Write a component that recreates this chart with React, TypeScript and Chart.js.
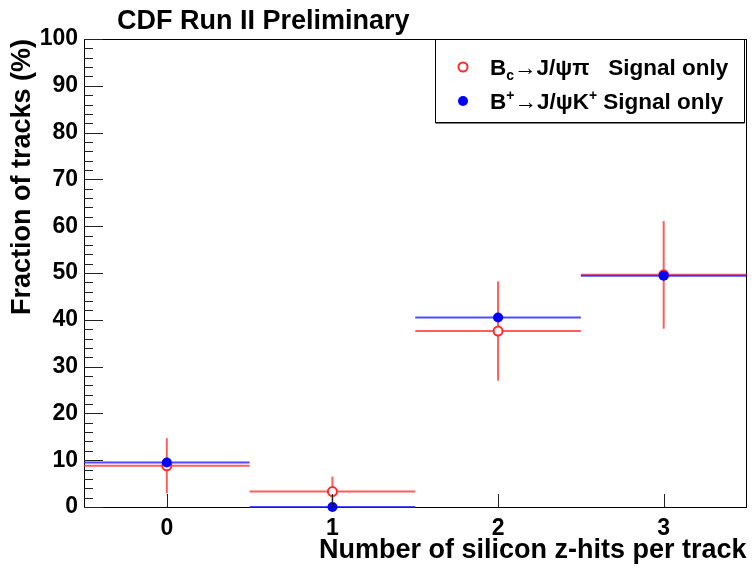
import React, { useEffect, useRef } from 'react';
import { Chart, registerables } from 'chart.js';

Chart.register(...registerables);

// ---------------- data ----------------
const hitCategories = [0, 1, 2, 3];
const binHalfWidth = [0.5, 0.5, 0.5, 0.5];

const bcFraction = [8.8, 3.3, 37.6, 49.6];
const bcError = [5.9, 3.2, 10.6, 11.5];

const bpFraction = [9.5, 0.0, 40.5, 49.4];
const bpError = [0, 0, 0, 0];

const xTickValues = [0, 1, 2, 3];
const yMin = 0;
const yMax = 100;
const yMajorStep = 10;
const yMinorStep = 2;

const titleText = 'CDF Run II Preliminary';
const xTitle = 'Number of silicon z-hits per track';
const yTitle = 'Fraction of tracks (%)';

type Seg = { t: string; sub?: boolean; sup?: boolean };
const bcLegend: Seg[] = [
  { t: 'B' }, { t: 'c', sub: true }, { t: '\u2192J/\u03C8\u03C0   Signal only' },
];
const bpLegend: Seg[] = [
  { t: 'B' }, { t: '+', sup: true }, { t: '\u2192J/\u03C8K' }, { t: '+', sup: true }, { t: ' Signal only' },
];

const FONT = '"Liberation Sans", Arial, Helvetica, sans-serif';
const RED = '#ff2a2a';
const RED_BAR = 'rgba(255,40,40,0.75)';
const BLUE = '#0000ff';
const BLUE_BAR = 'rgba(30,30,255,0.8)';

function drawRich(ctx: CanvasRenderingContext2D, segs: Seg[], x: number, y: number, size: number) {
  let cx = x;
  ctx.textBaseline = 'alphabetic';
  ctx.textAlign = 'left';
  ctx.fillStyle = '#000';
  for (const s of segs) {
    if (s.sub || s.sup) {
      ctx.font = `bold ${Math.round(size * 0.6)}px ${FONT}`;
      const dy = s.sub ? size * 0.2 : -size * 0.38;
      ctx.fillText(s.t, cx, y + dy);
      cx += ctx.measureText(s.t).width;
    } else {
      ctx.font = `bold ${size}px ${FONT}`;
      ctx.fillText(s.t, cx, y);
      cx += ctx.measureText(s.t).width;
    }
  }
}

const errorBarPlugin = {
  id: 'errorBars',
  beforeDatasetDraw(chart: any, args: any) {
    const ds: any = chart.data.datasets[args.index];
    if (!ds.yErr) return;
    const xs = chart.scales.x;
    const ys = chart.scales.y;
    const ctx = chart.ctx;
    ctx.save();
    ctx.strokeStyle = ds.barColor;
    ctx.lineWidth = 2;
    ds.data.forEach((p: any, i: number) => {
      const px = xs.getPixelForValue(p.x);
      const py = ys.getPixelForValue(p.y);
      const xl = xs.getPixelForValue(p.x - ds.xErr[i]);
      const xr = xs.getPixelForValue(p.x + ds.xErr[i]);
      ctx.beginPath();
      ctx.moveTo(xl, py);
      ctx.lineTo(xr, py);
      ctx.stroke();
      if (ds.yErr[i] > 0) {
        const yt = ys.getPixelForValue(p.y + ds.yErr[i]);
        const yb = ys.getPixelForValue(Math.max(yMin, p.y - ds.yErr[i]));
        ctx.beginPath();
        ctx.moveTo(px, yt);
        ctx.lineTo(px, yb);
        ctx.stroke();
      }
    });
    ctx.restore();
  },
};

const framePlugin = {
  id: 'rootFrame',
  beforeDatasetsDraw(chart: any) {
    const { ctx, chartArea: a } = chart;
    ctx.save();
    ctx.strokeStyle = '#000';
    ctx.lineWidth = 1;
    ctx.strokeRect(Math.round(a.left) + 0.5, Math.round(a.top) + 0.5, Math.round(a.right - a.left) - 1, Math.round(a.bottom - a.top));
    ctx.restore();
  },
  afterDatasetsDraw(chart: any) {
    const { ctx, chartArea: a } = chart;
    const xs = chart.scales.x;
    const ys = chart.scales.y;
    ctx.save();
    ctx.strokeStyle = '#222';
    ctx.lineWidth = 1;
    // y ticks (inside)
    for (let v = yMin; v <= yMax + 1e-9; v += yMinorStep) {
      const py = Math.round(ys.getPixelForValue(v)) + 0.5;
      const major = Math.abs(v / yMajorStep - Math.round(v / yMajorStep)) < 1e-6;
      const len = major ? 19 : 9;
      ctx.beginPath();
      ctx.moveTo(a.left, py);
      ctx.lineTo(a.left + len, py);
      ctx.stroke();
    }
    // x ticks (inside)
    xTickValues.forEach((v) => {
      const px = Math.round(xs.getPixelForValue(v)) + 0.5;
      ctx.beginPath();
      ctx.moveTo(px, a.bottom);
      ctx.lineTo(px, a.bottom - 13);
      ctx.stroke();
    });
    ctx.restore();

    // main title
    ctx.save();
    ctx.fillStyle = '#000';
    ctx.font = `bold 27px ${FONT}`;
    ctx.textAlign = 'left';
    ctx.textBaseline = 'alphabetic';
    ctx.fillText(titleText, 117, 29);
    ctx.restore();

    // legend
    ctx.save();
    const lx = 435.5, ly = a.top + 0.5, lw = a.right - 2 - lx, lh = 83;
    ctx.fillStyle = '#fff';
    ctx.fillRect(lx, ly, lw, lh);
    ctx.strokeStyle = '#000';
    ctx.lineWidth = 1;
    ctx.strokeRect(lx, ly, lw, lh);
    ctx.beginPath();
    ctx.moveTo(lx, ly + lh + 0.5);
    ctx.lineTo(lx + lw, ly + lh + 0.5);
    ctx.stroke();
    // markers
    ctx.lineWidth = 2;
    ctx.strokeStyle = RED;
    ctx.fillStyle = '#fff';
    ctx.beginPath();
    ctx.arc(463, a.top + 28, 4.5, 0, Math.PI * 2);
    ctx.fill();
    ctx.stroke();
    ctx.fillStyle = BLUE;
    ctx.beginPath();
    ctx.arc(463, a.top + 62, 5, 0, Math.PI * 2);
    ctx.fill();
    drawRich(ctx, bcLegend, 490, a.top + 36, 22.5);
    drawRich(ctx, bpLegend, 490, a.top + 70, 22.5);
    ctx.restore();
  },
};

export default function App() {
  const ref = useRef<HTMLCanvasElement>(null);
  useEffect(() => {
    if (!ref.current) return;
    const chart = new Chart(ref.current, {
      type: 'scatter',
      data: {
        datasets: [
          {
            label: 'Bc -> J/psi pi Signal only',
            data: hitCategories.map((x, i) => ({ x, y: bcFraction[i] })),
            yErr: bcError,
            xErr: binHalfWidth,
            barColor: RED_BAR,
            pointStyle: 'circle',
            pointRadius: 4.5,
            pointBorderWidth: 2,
            pointBackgroundColor: '#fff',
            pointBorderColor: RED,
            showLine: false,
            order: 2,
            clip: false,
          } as any,
          {
            label: 'B+ -> J/psi K+ Signal only',
            data: hitCategories.map((x, i) => ({ x, y: bpFraction[i] })),
            yErr: bpError,
            xErr: binHalfWidth,
            barColor: BLUE_BAR,
            pointStyle: 'circle',
            pointRadius: 5,
            pointBorderWidth: 0,
            pointBackgroundColor: BLUE,
            pointBorderColor: BLUE,
            showLine: false,
            order: 1,
            clip: false,
          } as any,
        ],
      },
      options: {
        responsive: false,
        animation: false,
        devicePixelRatio: 1,
        events: [],
        layout: { padding: { top: 39, right: 3, left: 0, bottom: 0 } },
        plugins: {
          legend: { display: false },
          tooltip: { enabled: false },
          title: { display: false },
        },
        scales: {
          x: {
            type: 'linear',
            min: -0.5,
            max: 3.5,
            afterBuildTicks: (s: any) => {
              s.ticks = xTickValues.map((v) => ({ value: v }));
            },
            afterFit: (s: any) => {
              s.height = 63;
            },
            grid: { display: false, drawTicks: false },
            border: { display: false },
            ticks: {
              color: '#000',
              padding: 8,
              maxRotation: 0,
              font: { family: FONT, size: 23, weight: 'bold' },
              callback: (v: any) => String(v),
            },
            title: {
              display: true,
              text: xTitle,
              align: 'end',
              color: '#000',
              font: { family: FONT, size: 27, weight: 'bold' },
              padding: { top: 0, bottom: 3 },
            },
          },
          y: {
            type: 'linear',
            min: yMin,
            max: yMax,
            afterFit: (s: any) => {
              s.width = 84;
            },
            grid: { display: false, drawTicks: false },
            border: { display: false },
            ticks: {
              stepSize: yMajorStep,
              color: '#000',
              padding: 6,
              font: { family: FONT, size: 23, weight: 'bold' },
            },
            title: {
              display: true,
              text: yTitle,
              align: 'end',
              color: '#000',
              font: { family: FONT, size: 27, weight: 'bold' },
              padding: { top: 6, bottom: 0 },
            },
          },
        },
      } as any,
      plugins: [errorBarPlugin, framePlugin],
    });
    return () => chart.destroy();
  }, []);
  return (
    <div style={{ position: 'absolute', left: 0, top: 0, width: 753, height: 570, background: '#fff' }}>
      <canvas ref={ref} width={753} height={570} style={{ width: 753, height: 570, display: 'block' }} />
    </div>
  );
}
